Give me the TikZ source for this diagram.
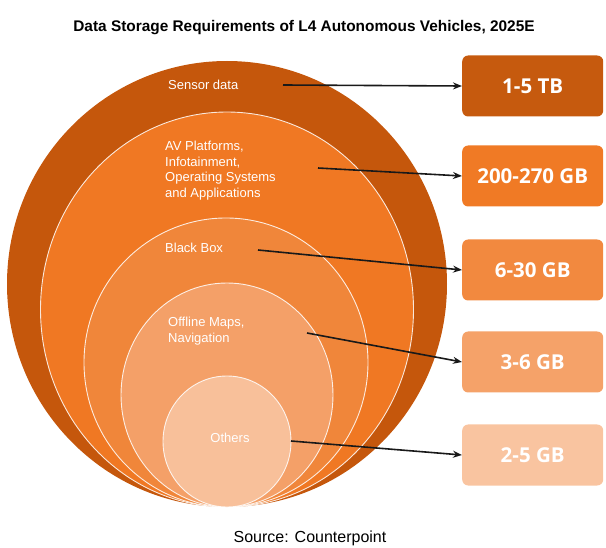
\documentclass[tikz,border=0pt]{standalone}
\usepackage{fontspec}
\setmainfont{Liberation Sans}
\newfontfamily\boxfont{Open Sans}
\usetikzlibrary{arrows.meta}

\definecolor{ringA}{HTML}{C5570C}
\definecolor{ringB}{HTML}{F07823}
\definecolor{ringC}{HTML}{F0863A}
\definecolor{ringD}{HTML}{F4A068}
\definecolor{ringE}{HTML}{F8C09A}
\definecolor{boxA}{HTML}{C65A0E}
\definecolor{boxB}{HTML}{F07A25}
\definecolor{boxC}{HTML}{F2893F}
\definecolor{boxD}{HTML}{F5A269}
\definecolor{boxE}{HTML}{F9C4A0}

\begin{document}
\begin{tikzpicture}[x=1pt,y=-1pt,
    ringline/.style={draw=white,draw opacity=0.85,line width=0.9pt},
    ringtext/.style={text=white,anchor=west,align=left,inner sep=0pt,font=\fontsize{13}{15.7}\selectfont},
    amount/.style={anchor=west,rounded corners=6pt,minimum width=141pt,minimum height=61pt,text=white,font=\boxfont\bfseries\fontsize{20.5}{24}\selectfont},
    pointer/.style={-{Stealth[length=9pt,width=7pt]},line width=1.6pt,black!90}]
  \useasboundingbox (0,0) rectangle (606,548);

  \node[font=\bfseries\fontsize{15.4}{18}\selectfont] (title) at (304,28) {Data Storage Requirements of L4 Autonomous Vehicles, 2025E};

  % rings, all touching at the bottom
  \fill[ringA] (227,284) ellipse [x radius=220,y radius=223];
  \filldraw[fill=ringB,ringline] (227,309.5) ellipse [x radius=186.5,y radius=197.5];
  \filldraw[fill=ringC,ringline] (226,362.5) ellipse [x radius=142,y radius=144.5];
  \filldraw[fill=ringD,ringline] (227,395) ellipse [x radius=106,y radius=112];
  \filldraw[fill=ringE,ringline] (227,441.5) ellipse [x radius=64,y radius=65.5];

  \node[ringtext] (sensor) at (168,85) {Sensor data};
  \node[ringtext] (platform) at (165,170.5) {AV Platforms,\\Infotainment,\\Operating Systems\\and Applications};
  \node[ringtext] (blackbox) at (165,248) {Black Box};
  \node[ringtext] (offline) at (168,331) {Offline Maps,\\Navigation};
  \node[ringtext,anchor=center] (others) at (230,438) {Others};

  \node[amount,fill=boxA] (tb) at (462,86) {1-5 TB};
  \node[amount,fill=boxB] (gbA) at (462,176) {200-270 GB};
  \node[amount,fill=boxC] (gbB) at (462,270) {6-30 GB};
  \node[amount,fill=boxD] (gbC) at (462,362) {3-6 GB};
  \node[amount,fill=boxE] (gbD) at (462,455) {2-5 GB};

  \coordinate (sensorend) at (283,85);
  \coordinate (platformend) at (318,168);
  \coordinate (blackboxend) at (258,250);
  \coordinate (offlineend) at (307,333);
  \coordinate (othersend) at (291,441);

  \draw[pointer] (sensorend) -- (tb.west);
  \draw[pointer] (platformend) -- (gbA.west);
  \draw[pointer] (blackboxend) -- (gbB.west);
  \draw[pointer] (offlineend) -- (gbC.west);
  \draw[pointer] (othersend) -- (gbD.west);

  \node[font=\fontsize{16}{19}\selectfont] (source) at (310,538) {Source: Counterpoint};
\end{tikzpicture}
\end{document}
